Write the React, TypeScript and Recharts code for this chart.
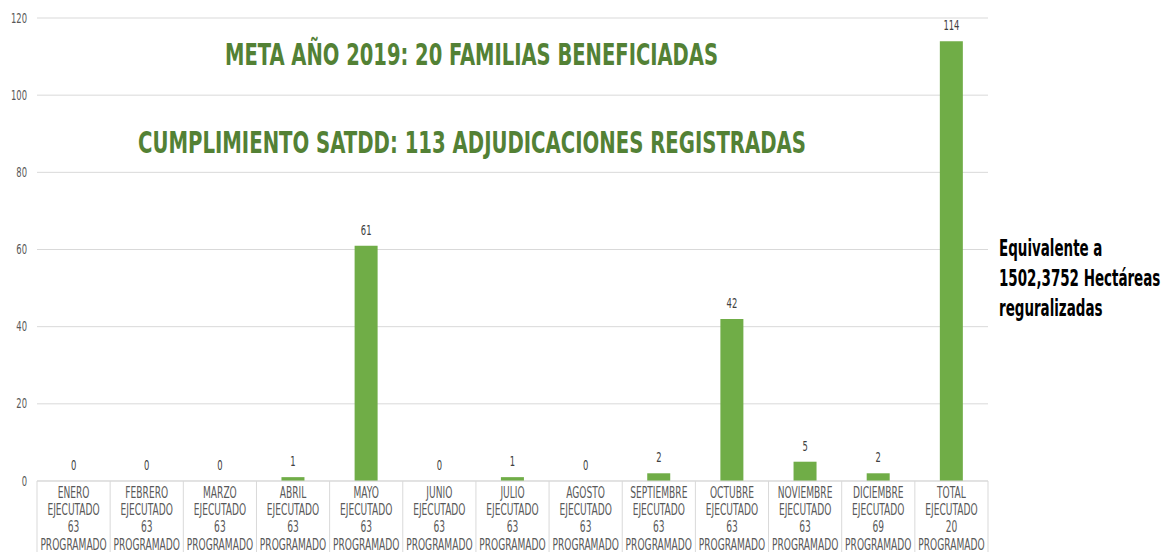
import { ComposedChart, Bar, Line, XAxis, YAxis, CartesianGrid, LabelList } from 'recharts'

const months = [
  'ENERO', 'FEBRERO', 'MARZO', 'ABRIL', 'MAYO', 'JUNIO', 'JULIO',
  'AGOSTO', 'SEPTIEMBRE', 'OCTUBRE', 'NOVIEMBRE', 'DICIEMBRE', 'TOTAL',
]
const ejecutado = [0, 0, 0, 1, 61, 0, 1, 0, 2, 42, 5, 2, 114]
const programado = ['63', '63', '63', '63', '63', '63', '63', '63', '63', '63', '63', '69', '20']
const yTicks = [0, 20, 40, 60, 80, 100, 120]
const sideNote = ['Equivalente a', '1502,3752 Hectáreas', 'reguralizadas']

const narrow = '"Liberation Sans Narrow", "DejaVu Sans Condensed", sans-serif'
const gridColor = '#d9d9d9'

const data = months.map((m, i) => ({ name: m, value: ejecutado[i] }))

// excel-style multi level category label with separators
function CategoryTick(props: any) {
  const { x, y, payload, width, visibleTicksCount } = props
  const band = (width || 951) / (visibleTicksCount || months.length)
  const i = payload.index
  const lines = [months[i], 'EJECUTADO', programado[i], 'PROGRAMADO']
  const offs = [16.5, 33.5, 50.5, 68.5]
  return (
    <g>
      <line x1={x - band / 2} x2={x - band / 2} y1={y} y2={y + 80} stroke={gridColor} />
      {i === months.length - 1 && (
        <line x1={x + band / 2} x2={x + band / 2} y1={y} y2={y + 80} stroke={gridColor} />
      )}
      {lines.map((t, k) => (
        <text
          key={k}
          transform={`translate(${x},${y + offs[k]}) scale(0.92,1.37)`}
          textAnchor="middle"
          fill="#595959"
          fontSize={11}
          fontFamily={narrow}
        >
          {t}
        </text>
      ))}
    </g>
  )
}

function ValueTick(props: any) {
  const { x, y, payload } = props
  return (
    <text
      transform={`translate(${x},${y + 4.5}) scale(0.85,1.25)`}
      textAnchor="end"
      fill="#595959"
      fontSize={11}
      fontFamily={narrow}
    >
      {payload.value}
    </text>
  )
}

function ValueLabel(props: any) {
  const vb = props.viewBox || props
  const cx = vb.x + (vb.width || 0) / 2
  return (
    <text
      transform={`translate(${cx},${vb.y - 11}) scale(0.85,1.25)`}
      textAnchor="middle"
      fill="#404040"
      fontSize={11}
      fontFamily={narrow}
    >
      {props.value}
    </text>
  )
}

export default function App() {
  return (
    <div style={{ position: 'absolute', left: 0, top: 0, width: 1167, height: 552, background: '#fff' }}>
      <ComposedChart
        width={1167}
        height={552}
        data={data}
        margin={{ top: 18, right: 179, bottom: 0, left: 0 }}
      >
        <CartesianGrid horizontal vertical={false} stroke={gridColor} />
        <XAxis
          dataKey="name"
          height={71}
          interval={0}
          tickSize={0}
          tickMargin={0}
          tickLine={false}
          axisLine={{ stroke: gridColor }}
          tick={<CategoryTick />}
        />
        <YAxis
          width={37}
          domain={[0, 120]}
          ticks={yTicks}
          axisLine={false}
          tickLine={false}
          tickMargin={4}
          tick={<ValueTick />}
        />
        <Bar dataKey="value" fill="#70ad47" barSize={23} isAnimationActive={false} />
        {/* invisible carrier for the data labels so zero values get one too */}
        <Line
          dataKey="value"
          stroke="none"
          dot={false}
          activeDot={false}
          legendType="none"
          isAnimationActive={false}
        >
          <LabelList dataKey="value" content={<ValueLabel />} />
        </Line>
      </ComposedChart>
      <svg
        width={1167}
        height={552}
        style={{ position: 'absolute', left: 0, top: 0, pointerEvents: 'none' }}
      >
        <g fontFamily={narrow} fontWeight="bold">
          <text x={225} y={65} fontSize={30} fill="#538135" textLength={493} lengthAdjust="spacingAndGlyphs">
            META AÑO 2019: 20 FAMILIAS BENEFICIADAS
          </text>
          <text x={138} y={152.5} fontSize={30} fill="#538135" textLength={668} lengthAdjust="spacingAndGlyphs">
            CUMPLIMIENTO SATDD: 113 ADJUDICACIONES REGISTRADAS
          </text>
          {sideNote.map((t, k) => (
            <text
              key={k}
              transform={`translate(999,${255.5 + k * 30}) scale(0.88,1.4)`}
              fontSize={17}
              fill="#000"
            >
              {t}
            </text>
          ))}
        </g>
      </svg>
    </div>
  )
}
